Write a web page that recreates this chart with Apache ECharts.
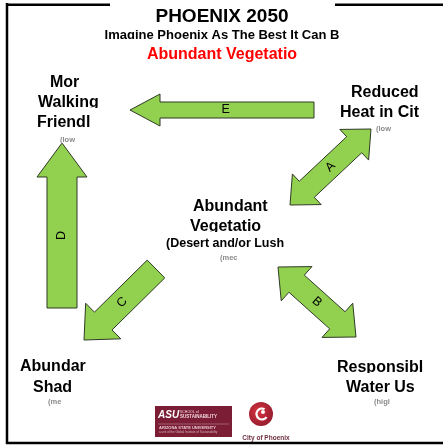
<!DOCTYPE html>
<html><head><meta charset="utf-8">
<script src="https://cdn.jsdelivr.net/npm/echarts@6/dist/echarts.min.js"></script>
<style>html,body{margin:0;padding:0;background:#fff}#c{width:443px;height:445px}</style>
</head><body><div id="c"></div>
<script>
// ---- data ----
const arrowLabels = ['E', 'D', 'C', 'A', 'B'];
const arrowFrom = [[314, 110], [62, 308], [156, 269], [290, 205], [278, 267]];
const arrowTo   = [[130, 110], [62, 143], [84, 340], [371, 129], [356, 337]];
const arrowDouble = [0, 0, 0, 1, 1];
const arrowLabelAt = [0.48, 0.44, 0.47, 0.5, 0.5];

const lineTexts = ['PHOENIX 2050', 'Imagine Phoenix As The Best It Can B', 'Abundant Vegetatio',
  'Mor', 'Walking', 'Friendl', '(low',
  'Reduced', 'Heat in Cit', '(low',
  'Abundant', 'Vegetatio', '(Desert and/or Lush', '(mec',
  'Abundar', 'Shad', '(me',
  'Responsibl', 'Water Us', '(higl'];
const lineX = [222, 222, 222, 50, 38, 37, 60, 351, 340, 376, 193, 190, 166, 220, 20, 33, 48, 337, 346, 374];
const lineY = [17, 35, 55, 83, 103, 123, 140, 93, 113, 129, 207, 227, 244, 258, 367, 388, 402, 368, 388, 402];
const lineKind = ['t', 'st', 'f', 'b', 'b', 'b', 's', 'b', 'b', 's', 'b', 'b', 'm', 's', 'b', 'b', 's', 'b', 'b', 's'];
const lineClip = [0, 1, 0, 0, 1, 0, 0, 1, 0, 0, 1, 1, 0, 0, 1, 0, 0, 1, 0, 0];

// ---- styles ----
const FONT = '"Liberation Sans", Arial, sans-serif';
const kinds = {
  t:  { font: 'bold 19px ' + FONT, color: '#000', align: 'center', cut: 7 },
  st: { font: 'bold 13px ' + FONT, color: '#000', align: 'center', cut: 4 },
  f:  { font: 'bold 16px ' + FONT, color: '#ff0000', align: 'center', cut: 6 },
  b:  { font: 'bold 16px ' + FONT, color: '#000', align: 'left', cut: 5 },
  m:  { font: 'bold 12.5px ' + FONT, color: '#000', align: 'left', cut: 5 },
  s:  { font: 'bold 7.5px ' + FONT, color: '#8a8a8a', align: 'left', cut: 3 }
};
const arrowGeom = [
  { w: 16, hw: 32, hl: 30 },
  { w: 30, hw: 50, hl: 34 },
  { w: 25, hw: 50, hl: 27 },
  { w: 22, hw: 42, hl: 23 },
  { w: 23, hw: 46, hl: 25 }
];
const GREEN = '#92d050';

const measureCtx = document.createElement('canvas').getContext('2d');
function textWidth(t, font) { measureCtx.font = font; return measureCtx.measureText(t).width; }

function arrowPoints(T, H, w, hw, hl, dbl) {
  const dx = H[0] - T[0], dy = H[1] - T[1], L = Math.hypot(dx, dy);
  const ux = dx / L, uy = dy / L, nx = -uy, ny = ux;
  const P = (b, s, t) => [b[0] + ux * s + nx * t, b[1] + uy * s + ny * t];
  const pts = [];
  if (dbl) pts.push(P(T, 0, 0), P(T, hl, hw / 2), P(T, hl, w / 2));
  else pts.push(P(T, 0, w / 2));
  pts.push(P(H, -hl, w / 2), P(H, -hl, hw / 2), P(H, 0, 0), P(H, -hl, -hw / 2), P(H, -hl, -w / 2));
  if (dbl) pts.push(P(T, hl, -w / 2), P(T, hl, -hw / 2));
  else pts.push(P(T, 0, -w / 2));
  return pts;
}

const chart = echarts.init(document.getElementById('c'), null, { renderer: 'canvas' });
chart.setOption({
  animation: false,
  backgroundColor: '#fff',
  grid: { left: 0, right: 0, top: 0, bottom: 0 },
  xAxis: { type: 'value', min: 0, max: 443, show: false },
  yAxis: { type: 'value', min: 0, max: 445, inverse: true, show: false },
  graphic: [
    { type: 'line', shape: { x1: 7, y1: 3, x2: 7, y2: 444 }, style: { stroke: '#000', lineWidth: 2.5 }, z: 1 },
    { type: 'line', shape: { x1: 6, y1: 4.7, x2: 110, y2: 4.7 }, style: { stroke: '#000', lineWidth: 2.5 }, z: 1 },
    { type: 'line', shape: { x1: 335, y1: 4.7, x2: 443, y2: 4.7 }, style: { stroke: '#000', lineWidth: 2.5 }, z: 1 },
    { type: 'line', shape: { x1: 6, y1: 443, x2: 443, y2: 443 }, style: { stroke: '#000', lineWidth: 2.5 }, z: 1 },
    // ASU logo
    { type: 'rect', shape: { x: 155, y: 406, width: 77, height: 31 }, style: { fill: '#7b1e35' }, z: 1 },
    { type: 'text', x: 158, y: 410, style: { text: 'ASU', font: 'bold italic 10px ' + FONT, fill: '#fff' }, z: 2 },
    { type: 'text', x: 180, y: 410, style: { text: 'SCHOOL of', font: '3.5px ' + FONT, fill: '#f0d8de' }, z: 2 },
    { type: 'text', x: 180, y: 414.5, style: { text: 'SUSTAINABILITY', font: 'bold 4.5px ' + FONT, fill: '#f0d8de' }, z: 2 },
    { type: 'line', shape: { x1: 158, y1: 424, x2: 229, y2: 424 }, style: { stroke: '#c9a0ab', lineWidth: 0.5 }, z: 2 },
    { type: 'text', x: 159, y: 426, style: { text: 'ARIZONA STATE UNIVERSITY', font: 'bold 4px ' + FONT, fill: '#e8c8d0' }, z: 2 },
    { type: 'text', x: 159, y: 431, style: { text: 'a unit of the Global Institute of Sustainability', font: '3px ' + FONT, fill: '#d8b0bb' }, z: 2 },
    // City of Phoenix logo
    { type: 'circle', shape: { cx: 261, cy: 414, r: 12 }, style: { fill: new echarts.graphic.RadialGradient(0.4, 0.4, 0.7, [{ offset: 0, color: '#d9333f' }, { offset: 1, color: '#8e1a2c' }]) }, z: 1 },
    { type: 'arc', shape: { cx: 262, cy: 414, r: 5.5, startAngle: 0.6, endAngle: 5.2 }, style: { stroke: '#fff', lineWidth: 2.2, fill: null }, z: 2 },
    { type: 'circle', shape: { cx: 263, cy: 412, r: 2 }, style: { fill: '#fff' }, z: 2 },
    { type: 'text', x: 266, y: 438, style: { text: 'City of Phoenix', font: 'bold 6.5px ' + FONT, fill: '#6e3040', align: 'center', verticalAlign: 'middle' }, z: 2 }
  ],
  series: [
    {
      type: 'custom',
      coordinateSystem: 'cartesian2d',
      encode: { x: [0, 2], y: [1, 3] },
      data: arrowLabels.map((l, i) => [arrowFrom[i][0], arrowFrom[i][1], arrowTo[i][0], arrowTo[i][1]]),
      renderItem: function (params, api) {
        const i = params.dataIndex;
        const T = api.coord([api.value(0), api.value(1)]);
        const H = api.coord([api.value(2), api.value(3)]);
        const g = arrowGeom[i];
        const pts = arrowPoints(T, H, g.w, g.hw, g.hl, arrowDouble[i]);
        const t = arrowLabelAt[i];
        const lx = T[0] + (H[0] - T[0]) * t, ly = T[1] + (H[1] - T[1]) * t;
        let ang = Math.atan2(-(H[1] - T[1]), H[0] - T[0]);
        if (ang > Math.PI / 2 + 1e-6) ang -= Math.PI;
        if (ang < -Math.PI / 2 + 1e-6) ang += Math.PI;
        return {
          type: 'group',
          children: [
            { type: 'polygon', shape: { points: pts }, style: { fill: GREEN, stroke: '#2f3a25', lineWidth: 1 } },
            { type: 'text', x: lx, y: ly, rotation: ang, style: { text: arrowLabels[i], font: '12.5px ' + FONT, fill: '#000', align: 'center', verticalAlign: 'middle' } }
          ]
        };
      },
      z: 3
    },
    {
      type: 'custom',
      coordinateSystem: 'cartesian2d',
      encode: { x: 0, y: 1 },
      data: lineTexts.map((t, i) => [lineX[i], lineY[i]]),
      renderItem: function (params, api) {
        const i = params.dataIndex;
        const p = api.coord([api.value(0), api.value(1)]);
        const st = kinds[lineKind[i]];
        const children = [];
        if (lineKind[i] === 't') {
          children.push({ type: 'rect', shape: { x: 110, y: 0, width: 225, height: 12 }, style: { fill: '#fff' } });
        }
        children.push({ type: 'text', x: p[0], y: p[1], style: { text: lineTexts[i], font: st.font, fill: st.color, align: st.align, verticalAlign: 'middle' } });
        if (lineClip[i]) {
          const w = textWidth(lineTexts[i], st.font);
          const x0 = st.align === 'center' ? p[0] - w / 2 - 3 : p[0] - 3;
          children.push({ type: 'rect', shape: { x: x0, y: p[1] + st.cut, width: w + 6, height: 6 }, style: { fill: '#fff' } });
        }
        return { type: 'group', children: children };
      },
      z: 4
    }
  ]
});
</script>
</body></html>
